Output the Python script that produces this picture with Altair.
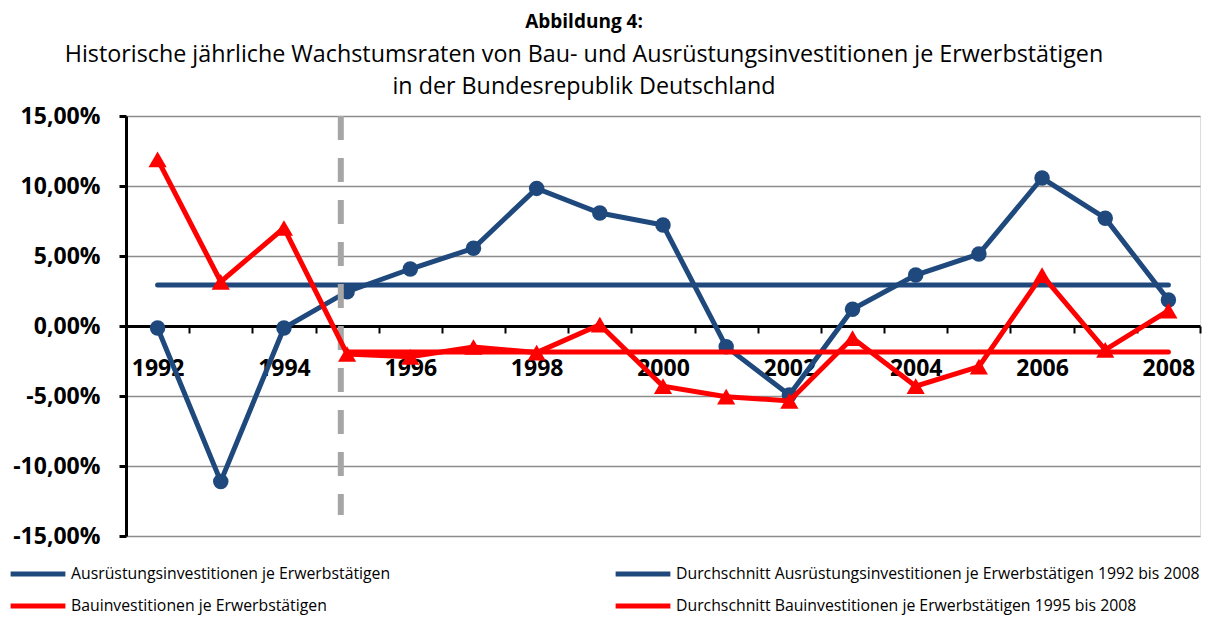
import altair as alt
import pandas as pd

years = list(range(1992, 2009))
ausr = [-0.14, -11.1, -0.14, 2.45, 4.07, 5.55, 9.83, 8.07, 7.21, -1.48, -4.93, 1.2, 3.64, 5.14, 10.57, 7.7, 1.86]
bau = [11.9, 3.16, 7.0, -2.0, -2.2, -1.5, -1.9, 0.1, -4.3, -5.05, -5.35, -0.86, -4.3, -2.9, 3.64, -1.7, 1.1]
ausr_avg = 2.93
bau_avg = -1.86
ausr_avg_years = [1992, 2008]
bau_avg_years = [1995, 2008]
marker_year = 1994.9
marker_top, marker_bottom = 15.0, -13.5

s_ausr = "Ausrüstungsinvestitionen je Erwerbstätigen"
s_ausr_avg = "Durchschnitt Ausrüstungsinvestitionen je Erwerbstätigen 1992 bis 2008"
s_bau = "Bauinvestitionen je Erwerbstätigen"
s_bau_avg = "Durchschnitt Bauinvestitionen je Erwerbstätigen 1995 bis 2008"
series_order = [s_ausr, s_ausr_avg, s_bau, s_bau_avg]
series_colors = ["#1F497D", "#1F497D", "#FF0000", "#FF0000"]

# tick marks sit between the years; labels shown for every second year
tick_years = [y + 0.5 for y in range(1991, 2009)]
y_ticks = [-15, -10, -5, 0, 5, 10, 15]

FONT = "Open Sans"
W, H = 1074, 420
BAND = W / 17.0

df_a = pd.DataFrame({"Jahr": years, "Wert": ausr, "Serie": s_ausr})
df_b = pd.DataFrame({"Jahr": years, "Wert": bau, "Serie": s_bau})
df_aa = pd.DataFrame({"Jahr": ausr_avg_years, "Wert": [ausr_avg] * 2, "Serie": s_ausr_avg})
df_ba = pd.DataFrame({"Jahr": bau_avg_years, "Wert": [bau_avg] * 2, "Serie": s_bau_avg})
df_m = pd.DataFrame({"Jahr": [marker_year], "oben": [marker_top], "unten": [marker_bottom]})

xscale = alt.Scale(domain=[1991.5, 2008.5], nice=False, zero=False)
yscale = alt.Scale(domain=[-15, 15], nice=False)
cscale = alt.Scale(domain=series_order, range=series_colors)
color = alt.Color("Serie:N", scale=cscale,
                  legend=alt.Legend(title=None, orient="none", legendX=-118, legendY=446,
                                    direction="horizontal", columns=2, columnPadding=222,
                                    rowPadding=8, clipHeight=24, symbolType="stroke",
                                    symbolStrokeWidth=5, symbolSize=3000, labelFont=FONT,
                                    labelFontSize=15.8, labelColor="#000000", labelLimit=700,
                                    labelOffset=3, values=series_order))

x_axis = alt.Axis(values=tick_years, offset=-(H / 2), tickSize=7, tickWidth=2,
                  tickColor="#000000", domainColor="#000000", domainWidth=3,
                  labelOffset=BAND / 2, labelFont=FONT, labelFontSize=23,
                  labelFontWeight="bold", labelColor="#000000", labelPadding=35,
                  labelBaseline="middle", labelFlush=False, labelOverlap=False,
                  labelExpr="((datum.value + 0.5) % 2 == 0 && datum.value < 2008) ? format(datum.value + 0.5, 'd') : ''",
                  grid=False, title=None)
y_axis = alt.Axis(values=y_ticks, grid=True, gridColor="#8C8C8C", gridWidth=1.6,
                  domainColor="#000000", domainWidth=3, tickColor="#000000", tickWidth=3,
                  tickSize=7, labelFont=FONT, labelFontSize=23, labelFontWeight="bold",
                  labelColor="#000000", labelPadding=19,
                  labelExpr="(datum.value < 0 ? '-' : '') + replace(format(abs(datum.value), '.2f'), '.', ',') + '%'",
                  title=None)

base_x = alt.X("Jahr:Q", scale=xscale, axis=x_axis)
base_y = alt.Y("Wert:Q", scale=yscale, axis=y_axis)
pt_color = alt.Color("Serie:N", scale=cscale, legend=None)

aa_line = alt.Chart(df_aa).mark_line(strokeWidth=5, strokeCap="round").encode(x=base_x, y=base_y, color=color)
a_line = alt.Chart(df_a).mark_line(strokeWidth=5).encode(x=base_x, y=base_y, color=color)
a_pts = alt.Chart(df_a).mark_point(shape="circle", filled=True, size=240, opacity=1).encode(
    x=base_x, y=base_y, color=pt_color)
marker = alt.Chart(df_m).mark_rule(color="#A6A6A6", strokeWidth=6, strokeDash=[24, 18]).encode(
    x=alt.X("Jahr:Q", scale=xscale), y=alt.Y("oben:Q", scale=yscale), y2="unten:Q")
ba_line = alt.Chart(df_ba).mark_line(strokeWidth=5, strokeCap="round").encode(x=base_x, y=base_y, color=color)
b_line = alt.Chart(df_b).mark_line(strokeWidth=5).encode(x=base_x, y=base_y, color=color)
b_pts = alt.Chart(df_b).mark_point(shape="triangle-up", filled=True, size=330, opacity=1).encode(
    x=base_x, y=base_y, color=pt_color)

chart = alt.layer(aa_line, a_line, a_pts, marker, ba_line, b_line, b_pts).properties(
    width=W, height=H,
    autosize=alt.AutoSizeParams(type="none"),
    padding={"left": 118, "top": 108, "right": 3, "bottom": 79},
    title=alt.Title("Abbildung 4:",
                    subtitle=["Historische jährliche Wachstumsraten von Bau- und Ausrüstungsinvestitionen je Erwerbstätigen",
                              "in der Bundesrepublik Deutschland"],
                    font=FONT, fontSize=19, fontWeight="bold", color="#000000",
                    subtitleFont=FONT, subtitleFontSize=23.3, subtitleColor="#000000",
                    subtitleLineHeight=32, subtitlePadding=12,
                    anchor="middle", dx=-79, offset=7)
).configure_view(stroke=None).configure(background="#FFFFFF")

chart.save("out.html", embed_options={"renderer": "svg", "actions": False})
